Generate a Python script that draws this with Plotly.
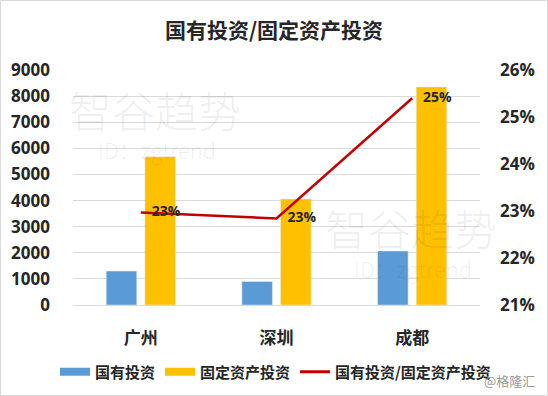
import plotly.graph_objects as go

categories = ["广州", "深圳", "成都"]
state_invest = [1300, 900, 2070]
fixed_invest = [5680, 4060, 8350]
ratio = [0.2297, 0.2284, 0.2540]

title_text = "国有投资/固定资产投资"
series_names = ["国有投资", "固定资产投资", "国有投资/固定资产投资"]
left_ticks = [0, 1000, 2000, 3000, 4000, 5000, 6000, 7000, 8000, 9000]
right_ticks = [0.21, 0.22, 0.23, 0.24, 0.25, 0.26]

BLUE = "#5B9BD5"
YELLOW = "#FFC000"
RED = "#C00000"
DARK = "#262626"
FONT = "Noto Sans CJK SC"
NUMFONT = "Open Sans"

fig = go.Figure()
fig.add_trace(go.Bar(x=categories, y=state_invest, name=series_names[0],
                     marker_color=BLUE, showlegend=False, yaxis="y"))
fig.add_trace(go.Bar(x=categories, y=fixed_invest, name=series_names[1],
                     marker_color=YELLOW, showlegend=False, yaxis="y"))
fig.add_trace(go.Scatter(x=categories, y=ratio, name=series_names[2], yaxis="y2",
                         mode="lines+text", line=dict(color=RED, width=2.5),
                         text=[f"   {v*100:.0f}%" for v in ratio],
                         textposition="middle right",
                         textfont=dict(family=NUMFONT, size=14, color=DARK, weight="bold"),
                         showlegend=False))
# legend entries
for name, col in zip(series_names, [BLUE, YELLOW, RED]):
    fig.add_trace(go.Scatter(x=[None], y=[None], name=name, mode="lines",
                             line=dict(color=col, width=8 if col != RED else 3)))

W, H = 548, 396
ml, mr, mt, mb = 73, 68, 70, 91
pw, ph = W - ml - mr, H - mt - mb

fig.update_layout(
    width=W, height=H,
    margin=dict(l=ml, r=mr, t=mt, b=mb, autoexpand=False),
    paper_bgcolor="white", plot_bgcolor="white",
    barmode="group", bargap=0.43, bargroupgap=0.21,
    title=dict(text=title_text, x=0.5, xanchor="center", xref="container",
               y=1 - 31 / H, yanchor="middle", yref="container",
               font=dict(family=FONT, size=21, color=DARK, weight="bold")),
    xaxis=dict(showgrid=False, showline=True, linecolor="#d9d9d9", ticks="",
               ticklabelstandoff=18, automargin=False,
               tickfont=dict(family=FONT, size=17, color=DARK, weight="bold")),
    yaxis=dict(range=[0, 9000], tickvals=left_ticks, showgrid=True, gridcolor="#d9d9d9",
               zeroline=False, showline=False, ticks="", ticklabelstandoff=22, automargin=False,
               tickfont=dict(family=NUMFONT, size=17, color=DARK, weight="bold")),
    yaxis2=dict(range=[0.21, 0.26], tickvals=right_ticks, tickformat=".0%", overlaying="y",
                side="right", showgrid=False, zeroline=False, ticks="", ticklabelstandoff=19,
                automargin=False,
                tickfont=dict(family=NUMFONT, size=17, color=DARK, weight="bold")),
    legend=dict(orientation="h", xref="paper", yref="paper",
                x=(55 - ml) / pw, xanchor="left", y=-(372 - mt - ph) / ph,
                yanchor="middle", itemwidth=30,
                font=dict(family=FONT, size=15, color=DARK, weight="bold")),
    hovermode=False,
)

wm_font = dict(family=FONT, size=43, color="rgba(0,0,0,0.08)", weight=300)
id_font = dict(family=FONT, size=22, color="rgba(0,0,0,0.08)", weight=300)
for (x, y, t, f) in [(0.2015, 0.835, "智谷趋势", wm_font), (0.206, 0.665, "ID：zgtrend", id_font),
                     (0.83, 0.33, "智谷趋势", wm_font), (0.835, 0.157, "ID：zgtrend", id_font)]:
    fig.add_annotation(x=x, y=y, xref="paper", yref="paper", text=t, showarrow=False,
                       font=f, xanchor="center", yanchor="middle", borderpad=0)

fig.add_annotation(x=(537 - ml) / pw, y=(ph - (380 - mt)) / ph, xref="paper", yref="paper",
                   text="@格隆汇", showarrow=False, xanchor="right", yanchor="middle",
                   font=dict(family=FONT, size=13, color="#999999"))

fig.add_shape(type="rect", xref="paper", yref="paper",
              x0=(-ml + 0.5) / pw, x1=1 + (mr - 0.5) / pw,
              y0=(-mb + 0.5) / ph, y1=1 + (mt - 0.5) / ph,
              line=dict(color="#d9d9d9", width=1), fillcolor="rgba(0,0,0,0)", layer="below")

fig.write_html("out.html", config={"displayModeBar": False},
               post_script="document.body.style.margin='0';document.body.style.overflow='hidden';")
